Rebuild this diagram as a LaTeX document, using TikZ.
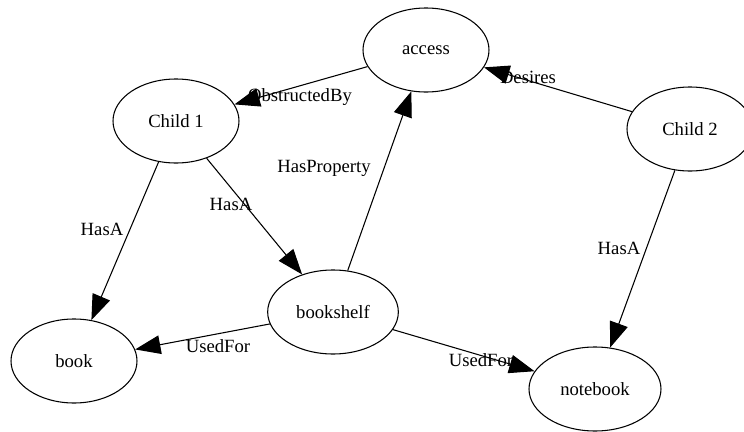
\documentclass[tikz,border=0pt]{standalone}
\usepackage{fontspec}
\setmainfont{Liberation Serif}
\usetikzlibrary{arrows.meta,shapes.geometric}

\begin{document}
\begin{tikzpicture}[x=0.75pt, y=-0.75pt,
    concept/.style={ellipse, draw, line width=0.8pt, minimum width=94.5pt, minimum height=63pt, inner sep=0pt, font=\fontsize{14}{16}\selectfont},
    rel/.style={-{Triangle[length=19pt, width=14pt]}, line width=0.8pt},
    lbl/.style={inner sep=0pt, font=\fontsize{14}{16}\selectfont}]
    \useasboundingbox (0, 0) rectangle (744, 432);
    \clip (0, 0) rectangle (744, 432);
    \node[concept] (access) at (426, 50) {access};
    \node[concept] (child1) at (176, 121) {Child 1};
    \node[concept] (child2) at (690, 129) {Child 2};
    \node[concept, minimum width=98pt] (bookshelf) at (333, 312) {bookshelf};
    \node[concept] (book) at (74, 361) {book};
    \node[concept, minimum width=99pt] (notebook) at (595, 389) {notebook};
    \node[lbl] (l-obstructed) at (300, 97) {ObstructedBy};
    \node[lbl] (l-desires) at (528, 77) {Desires};
    \node[lbl] (l-property) at (324, 168) {HasProperty};
    \node[lbl] (l-hasa1) at (231, 204) {HasA};
    \node[lbl] (l-hasa2) at (102, 229) {HasA};
    \node[lbl] (l-hasa3) at (619, 248) {HasA};
    \node[lbl] (l-usedfor1) at (218, 346) {UsedFor};
    \node[lbl] (l-usedfor2) at (481, 360) {UsedFor};
    \draw[rel] (access) -- (child1);
    \draw[rel] (child2) -- (access);
    \draw[rel] (bookshelf) -- (access);
    \draw[rel] (child1) -- (bookshelf);
    \draw[rel] (child1) -- (book);
    \draw[rel] (bookshelf) -- (book);
    \draw[rel] (bookshelf) -- (notebook);
    \draw[rel] (child2) -- (notebook);
\end{tikzpicture}
\end{document}
